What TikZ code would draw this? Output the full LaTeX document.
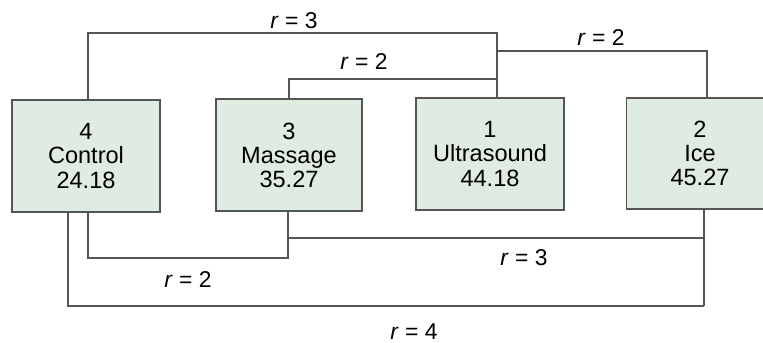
\documentclass[tikz,border=0pt]{standalone}
\usepackage{fontspec}
\setmainfont{Liberation Sans}
\definecolor{boxfill}{HTML}{E0EBE2}
\definecolor{linegray}{HTML}{555555}
\begin{document}
\begin{tikzpicture}[x=0.02cm,y=-0.02cm,
  grp/.style={draw=linegray,line width=1.1pt,fill=boxfill,minimum width=2.96cm,minimum height=2.24cm,inner sep=0pt,align=center,font=\fontsize{13.4}{13.7}\selectfont},
  conn/.style={draw=linegray,line width=1.1pt},
  lab/.style={font=\fontsize{13}{14}\selectfont,inner sep=0pt}]
\useasboundingbox (0,0) rectangle (763,342);
\clip (0,0) rectangle (763,342);
\node[grp] (ctrl) at (86,156) {4\\Control\\24.18};
\node[grp,minimum width=2.92cm] (mass) at (289,155) {3\\Massage\\35.27};
\node[grp] (ultra) at (490,154) {1\\Ultrasound\\44.18};
\node[grp,minimum width=2.94cm,minimum height=2.22cm] (ice) at (700,153.5) {2\\Ice\\45.27};
% top connectors
\coordinate (ut) at (497,33);
\coordinate (um) at (497,79);
\coordinate (ui) at (497,51);
\coordinate (it) at (707,51);
\draw[conn] (ctrl.north -| 88,0) |- (ut) -- (ultra.north -| ut);
\draw[conn] (mass.north) |- (um);
\draw[conn] (ui) -| (ice.north -| it);
% bottom connectors
\coordinate (cm) at (288,258);
\coordinate (mi) at (288,238);
\coordinate (ib) at (704,306);
\coordinate (cb) at (68,306);
\draw[conn] (ctrl.south -| 88,0) |- (cm) -- (mass.south -| cm);
\draw[conn] (mi) -- (mi -| ib);
\draw[conn] (ice.south -| ib) -- (ib);
\draw[conn] (ctrl.south -| cb) -- (cb) -- (ib);
% labels
\node[lab] (l1) at (294,21) {\textit{r} = 3};
\node[lab] (l2) at (364,62) {\textit{r} = 2};
\node[lab] (l3) at (601,38) {\textit{r} = 2};
\node[lab] (l4) at (188,280) {\textit{r} = 2};
\node[lab] (l5) at (524,258) {\textit{r} = 3};
\node[lab] (l6) at (414,332) {\textit{r} = 4};
\end{tikzpicture}
\end{document}
